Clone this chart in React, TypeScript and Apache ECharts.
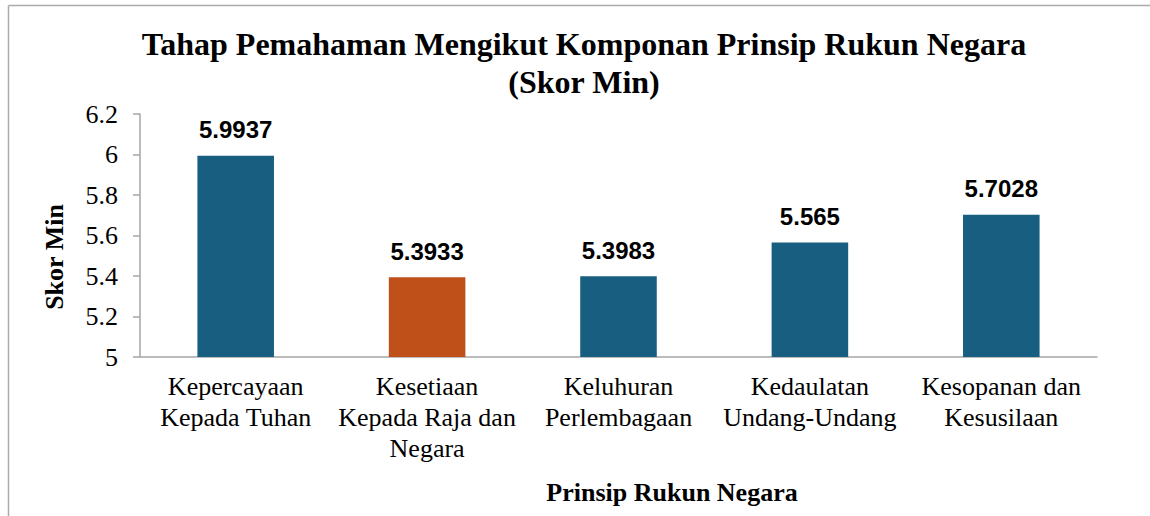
import React, { useEffect, useRef } from "react";
import * as echarts from "echarts";

const categories = [
  "Kepercayaan\nKepada Tuhan",
  "Kesetiaan\nKepada Raja dan\nNegara",
  "Keluhuran\nPerlembagaan",
  "Kedaulatan\nUndang-Undang",
  "Kesopanan dan\nKesusilaan",
];
const values = [5.9937, 5.3933, 5.3983, 5.565, 5.7028];
const barColors = ["#185E80", "#C0501A", "#185E80", "#185E80", "#185E80"];
const titleLines = ["Tahap Pemahaman Mengikut Komponan Prinsip Rukun Negara", "(Skor Min)"];
const xAxisName = "Prinsip Rukun Negara";
const yAxisName = "Skor Min";

const serif = "Liberation Serif";
const sans = "Liberation Sans";

const wrapRich = (s: string) =>
  s
    .split("\n")
    .map((l) => `{s|${l}}`)
    .join("\n");

export default function App() {
  const ref = useRef<HTMLDivElement>(null);
  useEffect(() => {
    if (!ref.current) return;
    const chart = echarts.init(ref.current, undefined, { renderer: "svg" });
    chart.setOption({
      animation: false,
      backgroundColor: "#ffffff",
      grid: { left: 140, right: 53, top: 114, bottom: 159, containLabel: false },
      xAxis: {
        type: "category",
        data: categories,
        axisLine: { lineStyle: { color: "#A6A6A6", width: 1.5 } },
        axisTick: { show: false },
        axisLabel: {
          color: "#000",
          fontSize: 26,
          lineHeight: 31,
          margin: 14,
          interval: 0,
          formatter: (v: string) => wrapRich(v),
          rich: {
            s: { fontFamily: serif, fontSize: 26, lineHeight: 31, color: "#000" },
          },
        },
      },
      yAxis: {
        type: "value",
        min: 5,
        max: 6.2,
        interval: 0.2,
        splitLine: { show: false },
        axisLine: { show: true, lineStyle: { color: "#A6A6A6", width: 1.5 } },
        axisTick: { show: true, length: 7, lineStyle: { color: "#A6A6A6", width: 1.5 } },
        axisLabel: {
          color: "#000",
          fontSize: 26,
          margin: 22,
          formatter: (v: number) => `{s|${Math.round(v * 10) / 10}}`,
          rich: {
            s: { fontFamily: serif, fontSize: 26, color: "#000" },
          },
        },
      },
      series: [
        {
          type: "bar",
          barWidth: "40%",
          data: values.map((v, i) => ({ value: v, itemStyle: { color: barColors[i] } })),
          label: {
            show: true,
            position: "top",
            distance: 14,
            color: "#000",
            fontFamily: sans,
            fontWeight: "bold",
            fontSize: 24,
            formatter: (p: any) => String(p.value),
          },
        },
      ],
      graphic: [
        {
          type: "line",
          shape: { x1: 8.5, y1: 5.5, x2: 1150, y2: 5.5 },
          style: { stroke: "#ABABAB", lineWidth: 1.5 },
        },
        {
          type: "line",
          shape: { x1: 8.5, y1: 5.5, x2: 8.5, y2: 516 },
          style: { stroke: "#ABABAB", lineWidth: 1.5 },
        },
        {
          type: "text",
          x: 584,
          y: 44,
          style: {
            text: titleLines[0],
            font: `bold 32px ${serif}`,
            fill: "#000",
            textAlign: "center",
            textVerticalAlign: "middle",
          },
        },
        {
          type: "text",
          x: 584,
          y: 82,
          style: {
            text: titleLines[1],
            font: `bold 32px ${serif}`,
            fill: "#000",
            textAlign: "center",
            textVerticalAlign: "middle",
          },
        },
        {
          type: "text",
          x: 672,
          y: 492,
          style: {
            text: xAxisName,
            font: `bold 26px ${serif}`,
            fill: "#000",
            textAlign: "center",
            textVerticalAlign: "middle",
          },
        },
        {
          type: "text",
          x: 54,
          y: 257,
          rotation: Math.PI / 2,
          style: {
            text: yAxisName,
            font: `bold 26px ${serif}`,
            fill: "#000",
            textAlign: "center",
            textVerticalAlign: "middle",
          },
        },
      ],
    });
    return () => chart.dispose();
  }, []);
  return (
    <div
      ref={ref}
      style={{ position: "fixed", left: 0, top: 0, width: 1150, height: 516 }}
    />
  );
}
